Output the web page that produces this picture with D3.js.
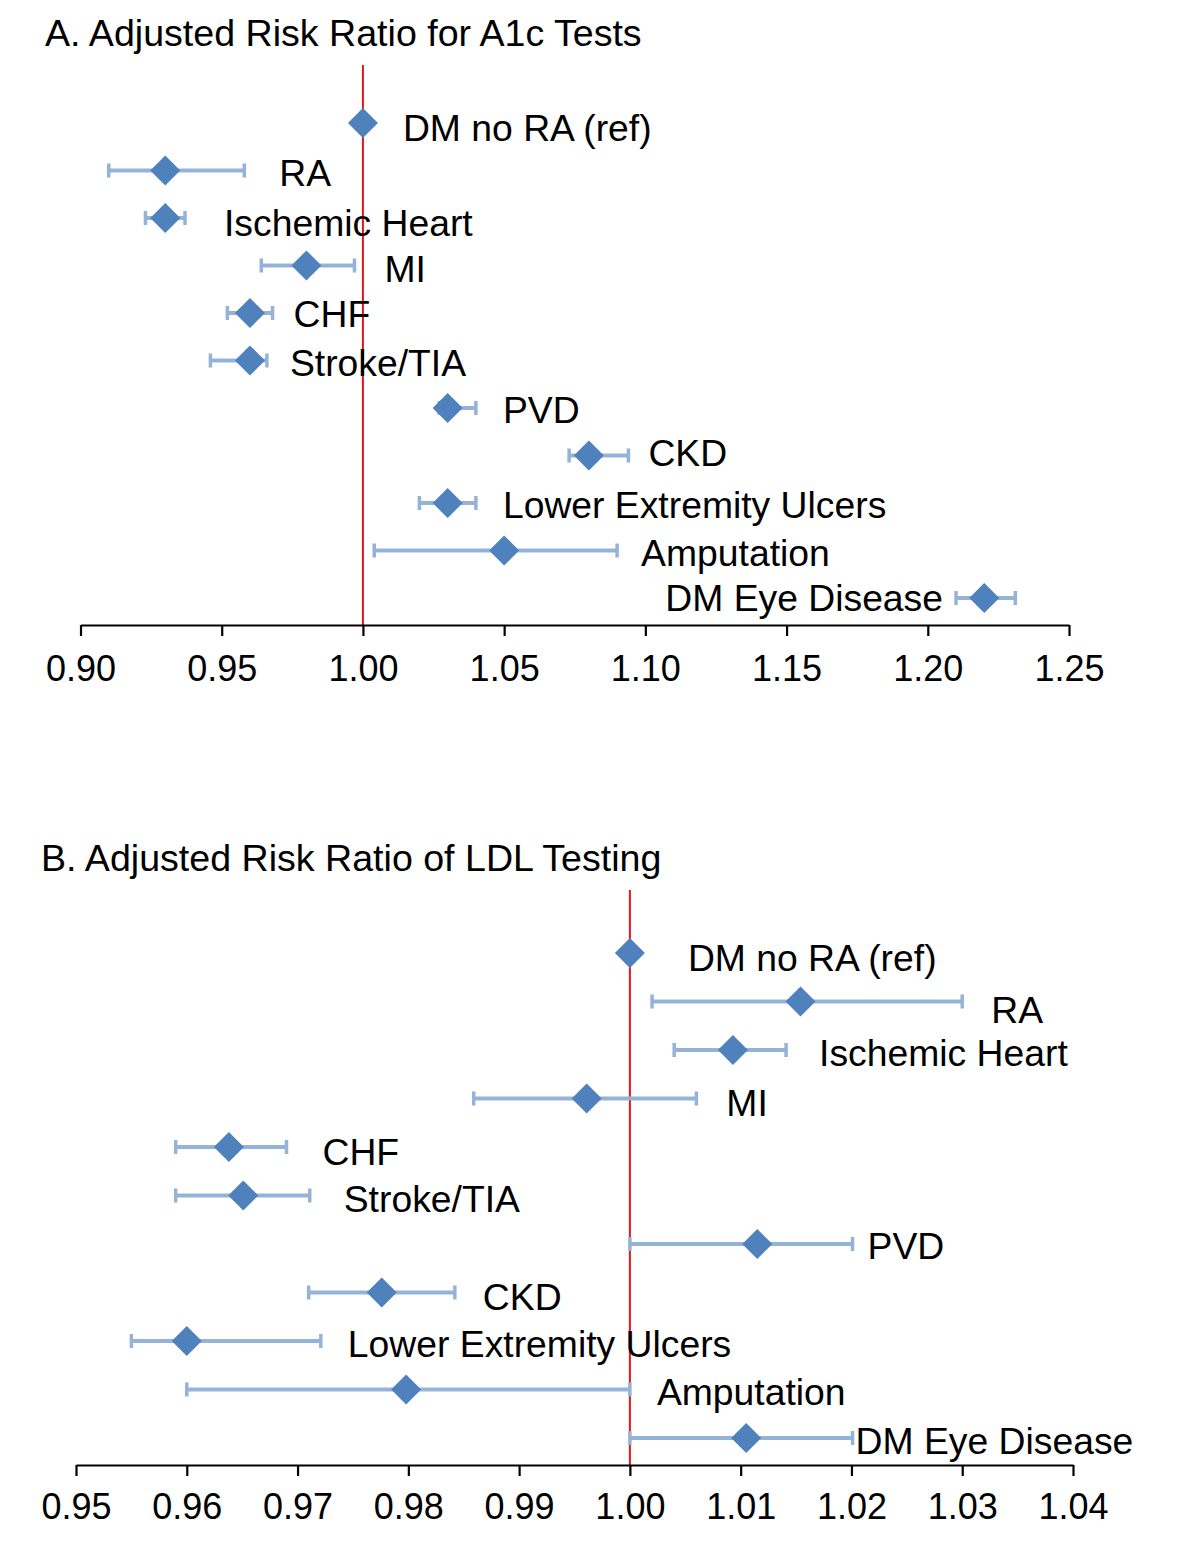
<!DOCTYPE html>
<html>
<head>
<meta charset="utf-8">
<script src="https://cdn.jsdelivr.net/npm/d3@7"></script>
<style>
  html, body { margin: 0; padding: 0; background: #fff; }
  svg { display: block; font-family: "Liberation Sans", Arial, sans-serif; }
</style>
</head>
<body>
<svg id="chart" width="1200" height="1568"></svg>
<script>
// ---------------- DATA ----------------
const categories = ["DM no RA (ref)", "RA", "Ischemic Heart", "MI", "CHF", "Stroke/TIA",
  "PVD", "CKD", "Lower Extremity Ulcers", "Amputation", "DM Eye Disease"];

// Panel A: Adjusted Risk Ratio for A1c Tests
const a1cEstimate = [1.000, 0.930, 0.930, 0.980, 0.960, 0.960, 1.030, 1.080, 1.030, 1.050, 1.220];
const a1cLower    = [1.000, 0.910, 0.923, 0.964, 0.952, 0.946, 1.027, 1.073, 1.020, 1.004, 1.210];
const a1cUpper    = [1.000, 0.958, 0.937, 0.997, 0.968, 0.966, 1.040, 1.094, 1.040, 1.090, 1.231];
const a1cTicks    = [0.90, 0.95, 1.00, 1.05, 1.10, 1.15, 1.20, 1.25];

// Panel B: Adjusted Risk Ratio of LDL Testing
const ldlEstimate = [1.0000, 1.0154, 1.0093, 0.9961, 0.9638, 0.9651, 1.0115, 0.9776, 0.9600, 0.9798, 1.0105];
const ldlLower    = [1.0000, 1.0020, 1.0040, 0.9859, 0.9590, 0.9590, 1.0000, 0.9710, 0.9550, 0.9600, 1.0000];
const ldlUpper    = [1.0000, 1.0300, 1.0141, 1.0060, 0.9690, 0.9711, 1.0201, 0.9842, 0.9721, 1.0000, 1.0201];
const ldlTicks    = [0.95, 0.96, 0.97, 0.98, 0.99, 1.00, 1.01, 1.02, 1.03, 1.04];

// ---------------- LAYOUT (label nudges, px) ----------------
const labelDxA = [40, 35, 39, 30, 21, 23, 27, 20, 27, 24, -13];
const labelDyA = [18, 15, 18, 16, 14, 15, 15, 10, 15, 15, 13];
const labelDxB = [58, 29, 33, 30, 36, 34, 15, 28, 27, 27, 3];
const labelDyB = [18, 21, 16, 17, 18, 16, 15, 17, 16, 15, 16];

const BAR = "#95B3D7", MARK = "#4F81BD", REF = "#E3161D";
const svg = d3.select("#chart");

function panel(cfg) {
  const g = svg.append("g");
  const x = d3.scaleLinear().domain(cfg.domain).range(cfg.xRange);
  const y = d3.scalePoint().domain(categories).range(cfg.yRange);

  g.append("text").attr("x", cfg.titleX).attr("y", cfg.titleY)
    .attr("font-size", 37.6).attr("fill", "#000").text(cfg.title);

  // reference line
  g.append("line").attr("x1", x(1)).attr("x2", x(1))
    .attr("y1", cfg.refTop).attr("y2", cfg.axisY)
    .attr("stroke", REF).attr("stroke-width", 2);

  // axis
  const axis = d3.axisBottom(x).tickValues(cfg.ticks).tickFormat(d3.format(".2f"))
    .tickSizeInner(11).tickSizeOuter(0).tickPadding(cfg.tickPad);
  const ax = g.append("g").attr("transform", `translate(0,${cfg.axisY})`).call(axis);
  ax.select(".domain").attr("stroke", "#000").attr("stroke-width", 2.2);
  ax.selectAll(".tick line").attr("stroke", "#000").attr("stroke-width", 2.2);
  ax.selectAll(".tick text").attr("font-size", 36).attr("fill", "#000")
    .attr("font-family", "Liberation Sans, Arial, sans-serif");

  const rows = categories.map((c, i) => ({
    c, est: cfg.est[i], lo: cfg.lo[i], hi: cfg.hi[i], dx: cfg.dx[i], dy: cfg.dy[i]
  }));

  // error bars
  const eb = g.selectAll(".eb").data(rows.filter(d => d.hi > d.lo)).join("g");
  eb.append("line").attr("x1", d => x(d.lo)).attr("x2", d => x(d.hi))
    .attr("y1", d => y(d.c)).attr("y2", d => y(d.c))
    .attr("stroke", BAR).attr("stroke-width", 4);
  eb.append("line").attr("x1", d => x(d.lo)).attr("x2", d => x(d.lo))
    .attr("y1", d => y(d.c) - 7).attr("y2", d => y(d.c) + 7)
    .attr("stroke", BAR).attr("stroke-width", 3.5);
  eb.append("line").attr("x1", d => x(d.hi)).attr("x2", d => x(d.hi))
    .attr("y1", d => y(d.c) - 7).attr("y2", d => y(d.c) + 7)
    .attr("stroke", BAR).attr("stroke-width", 3.5);

  // markers
  const sym = d3.symbol().type(d3.symbolSquare).size(450);
  g.selectAll(".mk").data(rows).join("path")
    .attr("d", sym)
    .attr("transform", d => `translate(${x(d.est)},${y(d.c)}) rotate(45)`)
    .attr("fill", MARK);

  // labels
  g.selectAll(".lb").data(rows).join("text")
    .attr("x", d => (d.dx < 0 ? x(d.lo) : (d.hi > d.lo ? x(d.hi) : x(d.est))) + d.dx)
    .attr("y", d => y(d.c) + d.dy)
    .attr("text-anchor", d => d.dx < 0 ? "end" : "start")
    .attr("font-size", 37.3).attr("fill", "#000")
    .text(d => d.c);
}

panel({
  title: "A. Adjusted Risk Ratio for A1c Tests", titleX: 45, titleY: 46,
  domain: [0.90, 1.25], xRange: [80.5, 1069], yRange: [123, 598],
  axisY: 625, refTop: 65, tickPad: 19, ticks: a1cTicks,
  est: a1cEstimate, lo: a1cLower, hi: a1cUpper, dx: labelDxA, dy: labelDyA
});

panel({
  title: "B. Adjusted Risk Ratio of LDL Testing", titleX: 41, titleY: 871,
  domain: [0.95, 1.04], xRange: [76, 1073], yRange: [953, 1438],
  axisY: 1465, refTop: 890, tickPad: 17, ticks: ldlTicks,
  est: ldlEstimate, lo: ldlLower, hi: ldlUpper, dx: labelDxB, dy: labelDyB
});
</script>
</body>
</html>
